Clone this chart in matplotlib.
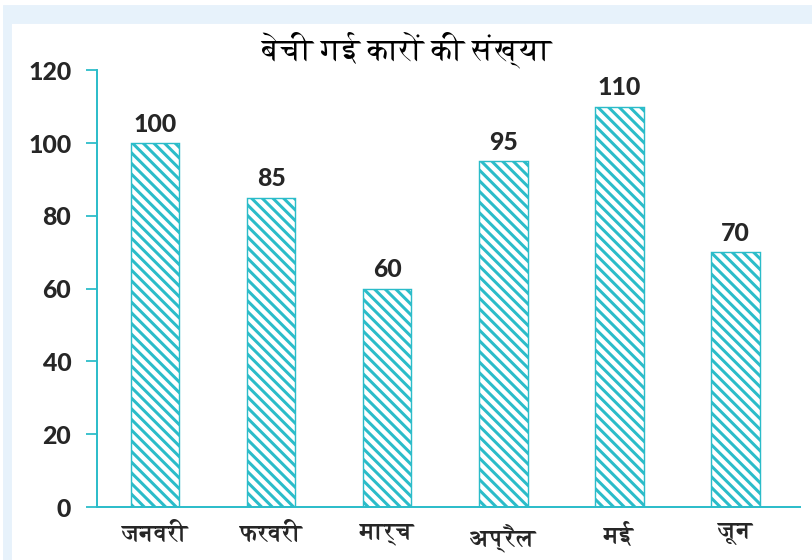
import matplotlib
matplotlib.use("Agg")
import matplotlib.pyplot as plt
from matplotlib import font_manager
from matplotlib.ft2font import FT2Font
from matplotlib.patches import Rectangle

months = ["जनवरी", "फरवरी", "मार्च", "अप्रैल", "मई", "जून"]
cars_sold = [100, 85, 60, 95, 110, 70]
y_ticks = [0, 20, 40, 60, 80, 100, 120]
title = "बेची गई कारों की संख्या"

teal = "#2bbcc9"
text_col = "#262626"


def find_devanagari_font():
    # look for installed fonts that have Devanagari glyphs, prefer one with a bold face
    found = []
    for f in font_manager.fontManager.ttflist:
        try:
            cmap = FT2Font(f.fname).get_charmap()
        except Exception:
            continue
        if ord("ब") in cmap and ord("ी") in cmap:
            found.append(f)
    if not found:
        return None
    bold = [f for f in found if f.weight in ("bold", 700) or str(f.weight) == "700"]
    return (bold or found)[0].name


deva = find_devanagari_font()
families = ([deva] if deva else []) + ["Lato", "DejaVu Sans"]
plt.rcParams["font.family"] = families
plt.rcParams["hatch.linewidth"] = 3.4
plt.rcParams["hatch.color"] = teal

dpi = 64
fig = plt.figure(figsize=(812 / dpi, 560 / dpi), dpi=dpi)
# light blue frame at the top and left
fig.add_artist(Rectangle((0.004, 0.959), 0.996, 0.032, transform=fig.transFigure,
                         color="#e7f2fb", zorder=0))
fig.add_artist(Rectangle((0.004, 0.0), 0.009, 0.99, transform=fig.transFigure,
                         color="#e7f2fb", zorder=0))

ax = fig.add_axes([0.1195, 0.0946, 0.866, 0.780])
x = range(len(months))
bars = ax.bar(x, cars_sold, width=0.42, color="white", edgecolor=teal,
              linewidth=1.6, hatch="\\\\")

for xi, v in zip(x, cars_sold):
    ax.text(xi, v + 2.0, str(v), ha="center", va="bottom", fontsize=28,
            fontweight="black", color=text_col, family=["Lato", "DejaVu Sans"])

ax.set_xlim(-0.5, 5.56)
ax.set_ylim(0, 120)
ax.set_yticks(y_ticks)
ax.set_yticklabels([str(t) for t in y_ticks], fontsize=28, fontweight="black",
                   color=text_col, family=["Lato", "DejaVu Sans"])
ax.set_xticks(list(x))
ax.set_xticklabels(months, fontsize=27, fontweight="bold", color=text_col)

for s in ["top", "right"]:
    ax.spines[s].set_visible(False)
for s in ["left", "bottom"]:
    ax.spines[s].set_color(teal)
    ax.spines[s].set_linewidth(2.2)
ax.tick_params(axis="y", direction="out", length=12, width=2, color=teal, pad=17)
ax.tick_params(axis="x", length=0, pad=18)

fig.text(0.5, 0.911, title, ha="center", va="center", fontsize=35, color="black")

fig.savefig("out.png", dpi=dpi, facecolor="white")
